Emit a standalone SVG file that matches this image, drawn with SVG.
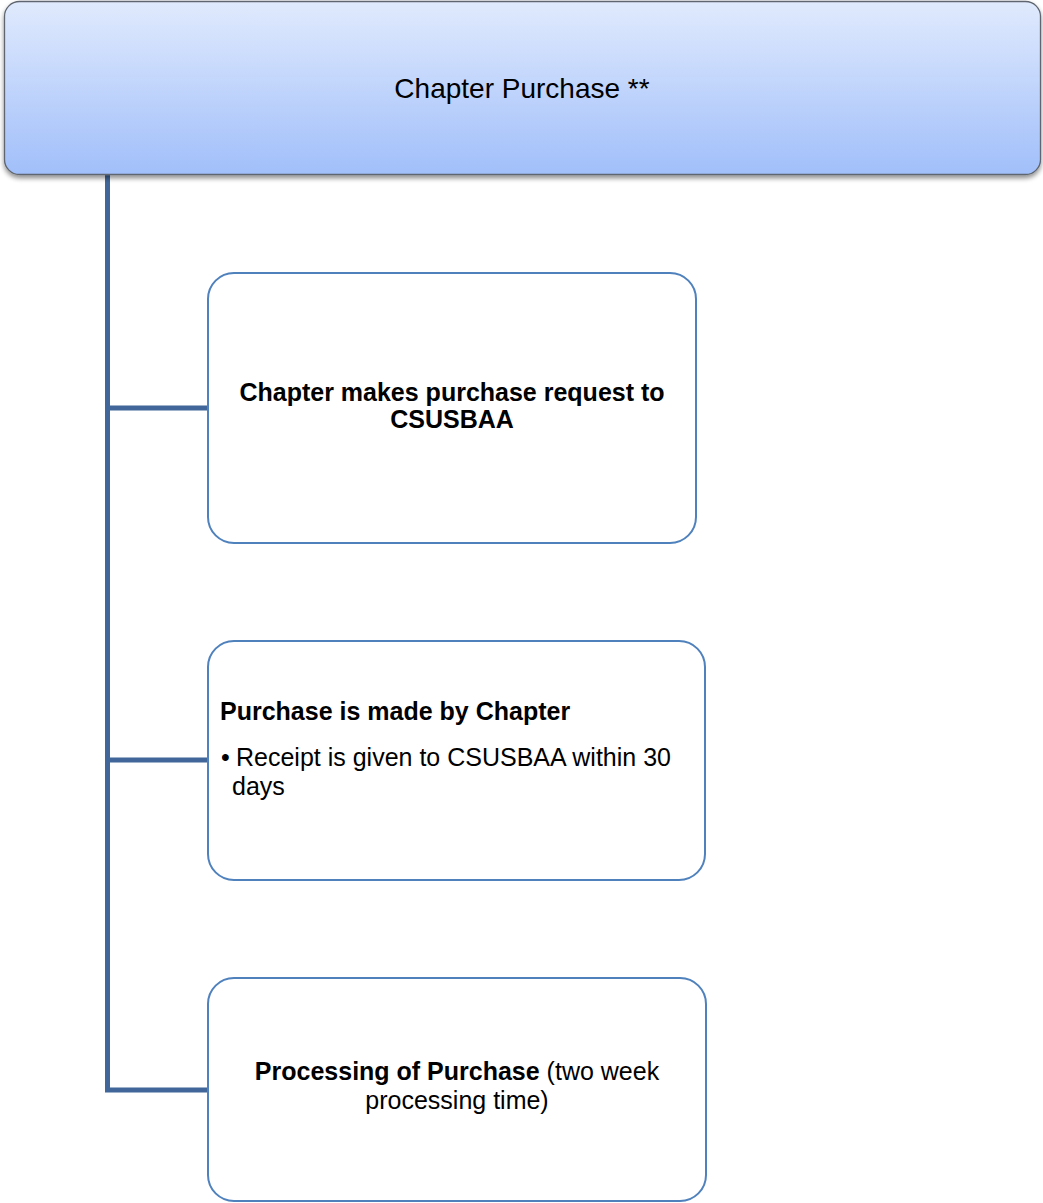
<svg xmlns="http://www.w3.org/2000/svg" width="1043" height="1203" viewBox="0 0 1043 1203">
  <defs>
    <linearGradient id="hdrGrad" x1="0" y1="0" x2="0" y2="1">
      <stop offset="0" stop-color="#e0eafd"/>
      <stop offset="1" stop-color="#a1bffa"/>
    </linearGradient>
    <filter id="shadow" x="-5%" y="-10%" width="110%" height="130%">
      <feGaussianBlur in="SourceAlpha" stdDeviation="2.5"/>
      <feOffset dx="0" dy="3" result="b"/>
      <feComponentTransfer><feFuncA type="linear" slope="0.45"/></feComponentTransfer>
      <feMerge><feMergeNode/><feMergeNode in="SourceGraphic"/></feMerge>
    </filter>
  </defs>
  <style>
    .conn { stroke: #41679a; stroke-width: 5; fill: none; }
    .box { fill: #ffffff; stroke: #4f81bd; stroke-width: 2; }
    .t { font-family: "Liberation Sans", Arial, sans-serif; fill: #000000; font-size: 25px; }
    .title { font-size: 28px; }
    .b { font-weight: bold; }
  </style>
  <rect width="1043" height="1203" fill="#ffffff"/>

  <g id="connectors">
    <path class="conn" d="M107.5 175 V1090 H208"/>
    <path class="conn" d="M107.5 408 H208"/>
    <path class="conn" d="M107.5 760 H208"/>
  </g>

  <g id="node-header">
    <rect x="4.5" y="1.5" width="1036" height="173" rx="15" ry="15" fill="url(#hdrGrad)" stroke="#5f6670" stroke-width="1.3" filter="url(#shadow)"/>
    <text class="t title" x="522" y="98" text-anchor="middle">Chapter Purchase **</text>
  </g>

  <g id="node-request">
    <rect class="box" x="208" y="273" width="488" height="270" rx="26" ry="26"/>
    <text class="t b" x="452" y="401" text-anchor="middle">Chapter makes purchase request to</text>
    <text class="t b" x="452" y="428" text-anchor="middle">CSUSBAA</text>
  </g>

  <g id="node-made">
    <rect class="box" x="208" y="641" width="497" height="239" rx="26" ry="26"/>
    <text class="t b" x="220" y="720">Purchase is made by Chapter</text>
    <text class="t" x="221" y="766">•</text>
    <text class="t" x="236" y="766">Receipt is given to CSUSBAA within 30</text>
    <text class="t" x="232" y="795">days</text>
  </g>

  <g id="node-processing">
    <rect class="box" x="208" y="978" width="498" height="223" rx="26" ry="26"/>
    <text class="t" x="457" y="1080" text-anchor="middle"><tspan class="b">Processing of Purchase</tspan> (two week</text>
    <text class="t" x="457" y="1109" text-anchor="middle">processing time)</text>
  </g>
</svg>
